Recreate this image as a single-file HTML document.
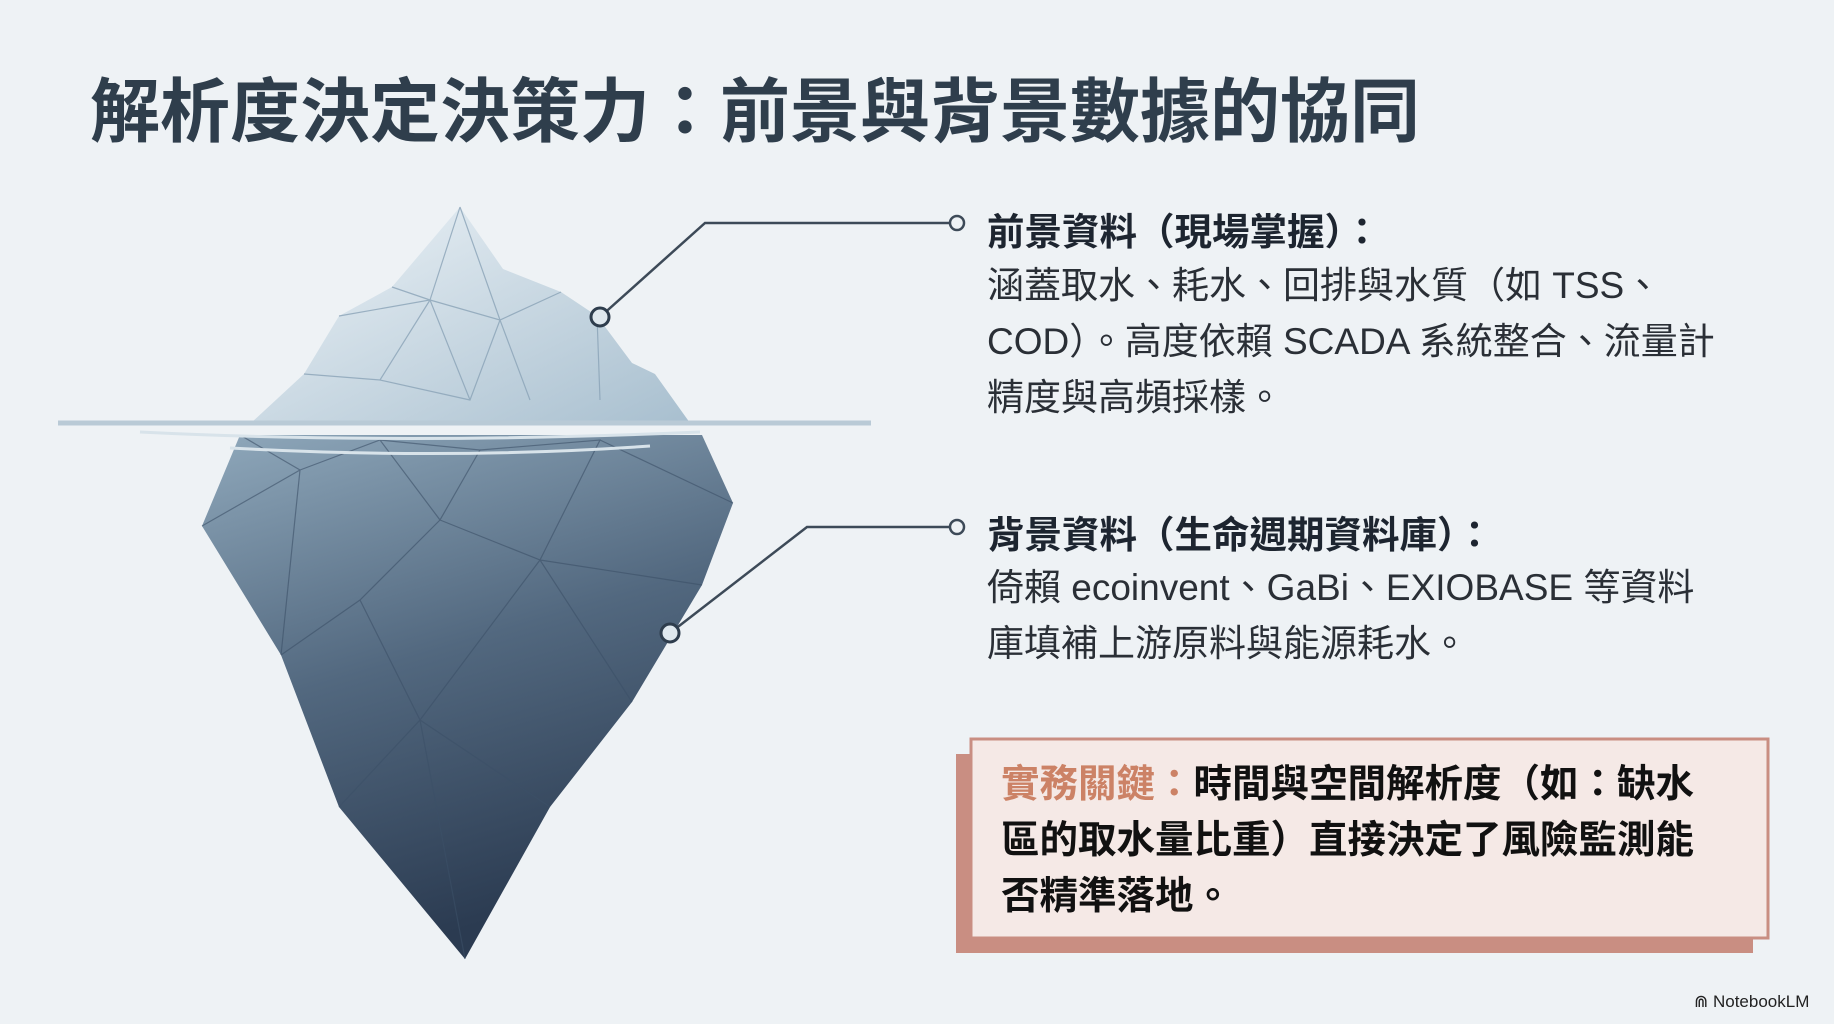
<!DOCTYPE html>
<html><head><meta charset="utf-8"><style>
html,body{margin:0;padding:0}
body{width:1834px;height:1024px;background:#eef2f5;position:relative;overflow:hidden;font-family:"Liberation Sans","Noto Sans CJK TC",sans-serif;color:#222}
.t{position:absolute;white-space:nowrap}
h1{position:absolute;left:90px;top:56px;margin:0;font-size:70px;font-weight:bold;color:#2f3e4c;letter-spacing:0px;white-space:nowrap}
.hd{font-size:37.5px;font-weight:bold;color:#1d2530}
.bd{font-size:37px;color:#2a2f36;line-height:56px}
</style></head><body>
<h1>解析度決定決策力：前景與背景數據的協同</h1>
<svg width="1834" height="1024" style="position:absolute;left:0;top:0">
<defs>
<linearGradient id="top" x1="0" y1="0" x2="1" y2="1"><stop offset="0" stop-color="#eef4f8"/><stop offset="1" stop-color="#a8bfcf"/></linearGradient>
<linearGradient id="bot" x1="0" y1="0" x2="0.3" y2="1"><stop offset="0" stop-color="#8fa8bb"/><stop offset="0.5" stop-color="#52687f"/><stop offset="1" stop-color="#2b3b51"/></linearGradient>
</defs>
<polygon points="240,435 202,526 281,655 339,807 465,959 550,807 632,702 702,585 733,503 702,435" fill="url(#bot)"/>
<g stroke="#3c5068" stroke-width="1.2" fill="none" opacity="0.6">
<path d="M240,435 L300,470 L202,526 M300,470 L281,655 M300,470 L380,440 L440,520 L360,600 L281,655 M380,440 L480,450 L440,520 L540,560 L632,702 M480,450 L600,440 L540,560 L702,585 M600,440 L733,503 M360,600 L420,720 L339,807 M420,720 L540,560 M420,720 L465,959 M420,720 L550,807 M440,520 L360,600"/>
</g>
<polygon points="251,423 304,374 339,316 392,287 460,207 503,269 561,292 597,316 632,363 655,374 690,423" fill="url(#top)"/>
<g stroke="#8aa3b6" stroke-width="1.2" fill="none" opacity="0.8">
<path d="M460,207 L430,300 L339,316 M430,300 L392,287 M460,207 L500,320 L561,292 M430,300 L500,320 L530,400 M430,300 L380,380 L304,374 M380,380 L470,400 L500,320 M597,316 L600,400 M470,400 L430,300"/>
</g>
<path d="M58,423 L871,423" stroke="#b9cad6" stroke-width="5"/>
<path d="M140,432 Q400,445 700,432 M230,448 Q450,460 650,446" stroke="#d8e3ea" stroke-width="3" fill="none"/>
<g stroke="#3d4a58" stroke-width="2.5" fill="none">
<polyline points="957,223 705,223 600,317"/>
<polyline points="957,527 807,527 670,633"/>
</g>
<circle cx="957" cy="223" r="7" fill="#eef2f5" stroke="#3d4a58" stroke-width="2.5"/>
<circle cx="957" cy="527" r="7" fill="#eef2f5" stroke="#3d4a58" stroke-width="2.5"/>
<circle cx="600" cy="317" r="9" fill="#dfe8ee" stroke="#2e3d4d" stroke-width="3"/>
<circle cx="670" cy="633" r="9" fill="#dfe8ee" stroke="#2e3d4d" stroke-width="3"/>
<rect x="956" y="754" width="797" height="199" fill="#c98e82"/>
<rect x="971" y="739" width="797" height="199" fill="#f5e9e6" stroke="#c98e82" stroke-width="3"/>
</svg>
<div class="t hd" style="left:987px;top:201px">前景資料（現場掌握）：</div>
<div class="t bd" style="left:987px;top:258px">涵蓋取水、耗水、回排與水質（如 TSS、<br>COD）。高度依賴 SCADA 系統整合、流量計<br>精度與高頻採樣。</div>
<div class="t hd" style="left:987px;top:504px">背景資料（生命週期資料庫）：</div>
<div class="t bd" style="left:987px;top:560px">倚賴 ecoinvent、GaBi、EXIOBASE 等資料<br>庫填補上游原料與能源耗水。</div>
<div class="t" style="left:1001px;top:757px;font-size:38.5px;font-weight:bold;line-height:56px;color:#111"><span style="color:#cc8266">實務關鍵：</span>時間與空間解析度（如：缺水<br>區的取水量比重）直接決定了風險監測能<br>否精準落地。</div>
<div class="t" style="left:1694px;top:992px;font-size:17px;color:#222">⋒ NotebookLM</div>
</body></html>
